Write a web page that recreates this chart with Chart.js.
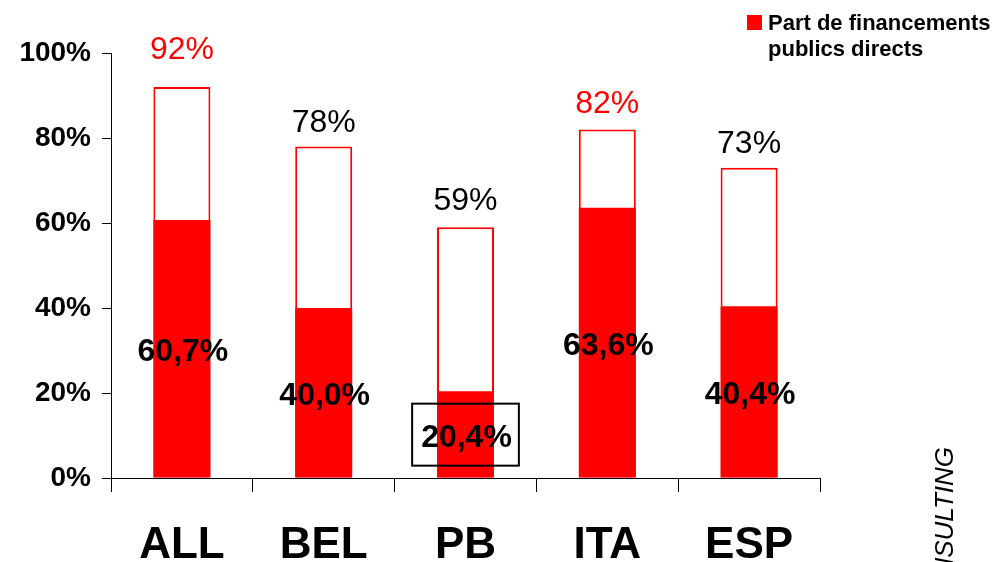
<!DOCTYPE html>
<html>
<head>
<meta charset="utf-8">
<script src="https://cdn.jsdelivr.net/npm/chart.js@4.4.1/dist/chart.umd.min.js"></script>
<style>
  html, body { margin: 0; padding: 0; background: #fff; }
  #wrap { width: 998px; height: 562px; }
</style>
</head>
<body>
<div id="wrap"><canvas id="myChart" width="998" height="562"></canvas></div>
<script>

  // countries and shares (%)
  const categories = ['ALL', 'BEL', 'PB', 'ITA', 'ESP'];
  const totalShare = [92, 78, 59, 82, 73];
  const publicShare = [60.7, 40.0, 20.4, 63.6, 40.4];
  const yTicks = [0, 20, 40, 60, 80, 100];
  const legendText = ['Part de financements', 'publics directs'];

  const FONT = "'Liberation Sans', Arial, Helvetica, sans-serif";
  const RED = '#ff0000';

  function fmtPct(v, decimals) {
    return v.toFixed(decimals).replace('.', ',') + '%';
  }

  const labelsPlugin = {
    id: 'barLabels',
    afterDatasetsDraw(chart) {
      const ctx = chart.ctx;
      const y = chart.scales.y;
      const outline = chart.getDatasetMeta(1).data;
      const fill = chart.getDatasetMeta(0).data;
      const topColors = [RED, '#000', '#000', RED, '#000'];
      const raise = [13, 0, 2, 2, 0];

      ctx.save();
      ctx.textAlign = 'center';
      ctx.textBaseline = 'alphabetic';

      // totals above each bar
      ctx.font = '32px ' + FONT;
      outline.forEach((bar, i) => {
        ctx.fillStyle = topColors[i];
        ctx.fillText(fmtPct(totalShare[i], 0), bar.x, y.getPixelForValue(totalShare[i]) - 15 - raise[i]);
      });

      // public share in the middle of the red part
      ctx.font = 'bold 32px ' + FONT;
      ctx.fillStyle = '#000';
      fill.forEach((bar, i) => {
        const mid = (y.getPixelForValue(0) + y.getPixelForValue(publicShare[i])) / 2;
        const txt = fmtPct(publicShare[i], 1);
        ctx.fillText(txt, bar.x + 1, mid + 12);
        if (categories[i] === 'PB') {
          const w = ctx.measureText(txt).width + 16;
          ctx.lineWidth = 2;
          ctx.strokeStyle = '#000';
          ctx.strokeRect(bar.x - w / 2, mid - 31, w, 62);
        }
      });
      ctx.restore();
    },
    afterDraw(chart) {
      const ctx = chart.ctx;
      ctx.save();

      // legend
      ctx.fillStyle = RED;
      ctx.fillRect(747, 15, 15, 15);
      ctx.fillStyle = '#000';
      ctx.font = 'bold 22px ' + FONT;
      ctx.textAlign = 'left';
      ctx.textBaseline = 'alphabetic';
      ctx.fillText(legendText[0], 768, 30);
      ctx.fillText(legendText[1], 768, 56);

      // vertical credit on the right edge
      ctx.translate(953, 447);
      ctx.rotate(-Math.PI / 2);
      ctx.font = 'italic 26px ' + FONT;
      ctx.textAlign = 'right';
      ctx.fillText('CONSULTING', 0, 0);
      ctx.restore();
    }
  };

  const data = {
    labels: categories,
    datasets: [{
      label: legendText.join(' '),
      data: publicShare,
      backgroundColor: RED,
      borderWidth: 0,
      order: 0
    }, {
      label: 'Total',
      data: totalShare,
      backgroundColor: '#ffffff',
      borderColor: RED,
      borderWidth: 2,
      borderSkipped: false,
      order: 1
    }]
  };

  const config = {
    type: 'bar',
    data: data,
    options: {
      responsive: false,
      animation: false,
      layout: {
        padding: { top: 53, right: 178, bottom: 0, left: 0 }
      },
      datasets: {
        bar: { grouped: false, categoryPercentage: 1, barPercentage: 0.402 }
      },
      plugins: {
        legend: { display: false },
        tooltip: { enabled: false }
      },
      scales: {
        x: {
          grid: {
            offset: true,
            drawOnChartArea: false,
            tickLength: 14,
            color: '#000'
          },
          border: { color: '#000', width: 1 },
          ticks: {
            color: '#000',
            padding: 27,
            font: { family: FONT, size: 44, weight: 'bold' }
          },
          afterFit: (scale) => { scale.height = 84; }
        },
        y: {
          min: 0,
          max: 100,
          afterBuildTicks: (scale) => { scale.ticks = yTicks.map(v => ({ value: v })); },
          grid: {
            drawOnChartArea: false,
            tickLength: 9,
            color: '#000'
          },
          border: { color: '#000', width: 1 },
          ticks: {
            color: '#000',
            padding: 11,
            font: { family: FONT, size: 28, weight: 'bold' },
            callback: (v) => v + '%'
          },
          afterFit: (scale) => { scale.width = 111; }
        }
      }
    },
    plugins: [labelsPlugin]
  };

  var myChart = new Chart(document.getElementById('myChart'), config);

</script>
</body>
</html>
